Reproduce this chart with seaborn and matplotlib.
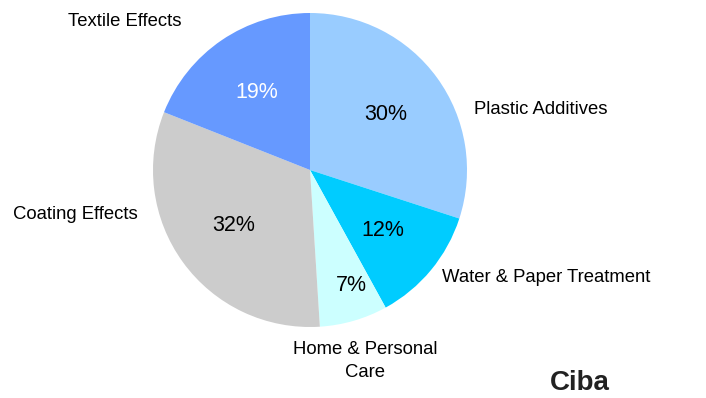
import matplotlib
matplotlib.use("Agg")
import matplotlib.pyplot as plt
import seaborn as sns
import numpy as np

categories = ["Plastic Additives", "Water & Paper Treatment", "Home & Personal\nCare",
              "Coating Effects", "Textile Effects"]
values = [30, 12, 7, 32, 19]
colors = ["#99CCFF", "#00CCFF", "#CCFFFF", "#CCCCCC", "#6699FF"]
pct_colors = ["black", "black", "black", "black", "white"]

sns.set_theme(style="white")
plt.rcParams['font.family'] = ['Liberation Sans', 'DejaVu Sans']

W, H = 706, 398
fig = plt.figure(figsize=(W / 100, H / 100), dpi=100)
cx, cy, r = 310, 170, 157
ax = fig.add_axes([(cx - r) / W, (H - cy - r) / H, 2 * r / W, 2 * r / H])

wedges, texts, autotexts = ax.pie(values, colors=colors, startangle=90, counterclock=False,
                                  autopct="%d%%", pctdistance=0.6, radius=1,
                                  wedgeprops=dict(linewidth=0),
                                  textprops=dict(fontsize=15.5))
for t, c in zip(autotexts, pct_colors):
    t.set_color(c)
# small slice label sits further out
w = wedges[2]
ang = np.deg2rad((w.theta1 + w.theta2) / 2) + 0.06
autotexts[2].set_position((0.78 * np.cos(ang), 0.78 * np.sin(ang)))
ax.set_xlim(-1, 1)
ax.set_ylim(-1, 1)
ax.set_aspect("equal")
ax.axis("off")

label_pos = [(541, 110, "center"), (546, 278, "center"), (365, 361, "center"),
             (75, 215, "center"), (125, 22, "center")]
for name, (x, y, ha) in zip(categories, label_pos):
    fig.text(x / W, 1 - y / H, name, ha=ha, va="center", fontsize=13.3,
             color="black", linespacing=1.4)

fig.text(580 / W, 1 - 383 / H, "Ciba", ha="center", va="center", fontsize=20,
         fontweight="bold", color="#222222")

fig.savefig("out.png", dpi=100)
